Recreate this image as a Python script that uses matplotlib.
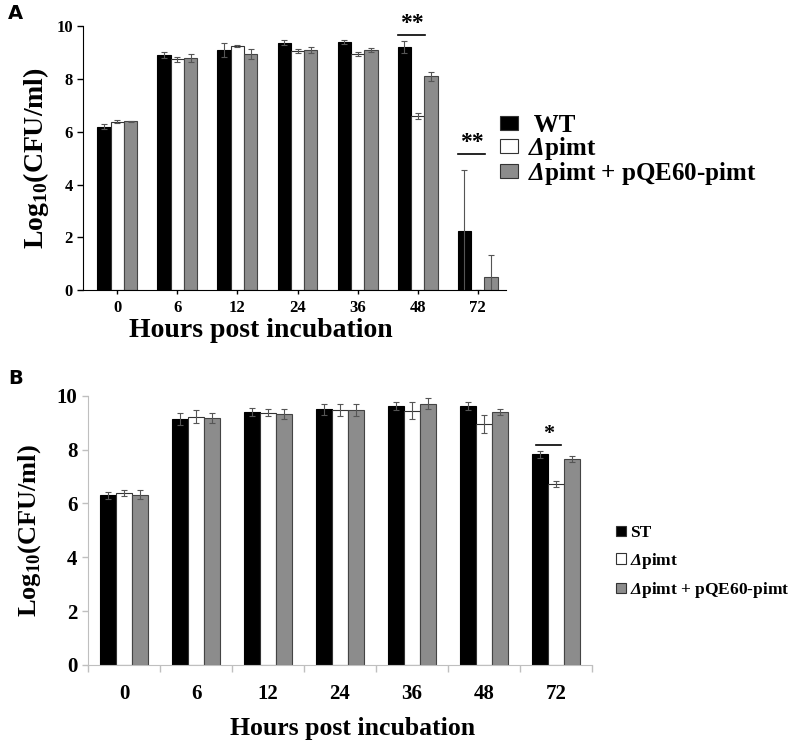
import numpy as np
import matplotlib
matplotlib.use("Agg")
import matplotlib.pyplot as plt

plt.rcParams['font.family'] = ['Liberation Serif', 'DejaVu Serif']
plt.rcParams['font.weight'] = 'bold'
plt.rcParams['axes.labelweight'] = 'bold'
plt.rcParams['mathtext.fontset'] = 'custom'
plt.rcParams['mathtext.rm'] = 'Liberation Serif:bold'
plt.rcParams['mathtext.bf'] = 'Liberation Serif:bold'
plt.rcParams['mathtext.sf'] = 'Liberation Serif:italic:bold'

hours = ["0", "6", "12", "24", "36", "48", "72"]

# panel A
a_wt = [6.2, 8.9, 9.1, 9.38, 9.4, 9.2, 2.25]
a_wt_err = [0.08, 0.12, 0.25, 0.1, 0.07, 0.22, 2.3]
a_del = [6.38, 8.75, 9.25, 9.05, 8.95, 6.6, 0.0]
a_del_err = [0.05, 0.1, 0.03, 0.08, 0.08, 0.12, 0.0]
a_comp = [6.4, 8.8, 8.95, 9.1, 9.1, 8.1, 0.5]
a_comp_err = [0.02, 0.15, 0.2, 0.12, 0.06, 0.18, 0.85]

# panel B
b_st = [6.3, 9.15, 9.4, 9.5, 9.62, 9.62, 7.82]
b_st_err = [0.12, 0.22, 0.15, 0.2, 0.15, 0.15, 0.12]
b_del = [6.38, 9.22, 9.37, 9.48, 9.45, 8.95, 6.72]
b_del_err = [0.1, 0.25, 0.12, 0.22, 0.32, 0.35, 0.12]
b_comp = [6.33, 9.17, 9.33, 9.48, 9.7, 9.4, 7.65]
b_comp_err = [0.18, 0.2, 0.18, 0.22, 0.2, 0.12, 0.1]

labels_a = [" WT", r"$\mathsf{Δ}$pimt", r"$\mathsf{Δ}$pimt + pQE60-pimt"]
labels_b = ["ST", r"$\mathsf{Δ}$pimt", r"$\mathsf{Δ}$pimt + pQE60-pimt"]
colors = ["#000000", "#ffffff", "#8c8c8c"]
edges = ["#000000", "#333333", "#444444"]

fig = plt.figure(figsize=(8, 7.48), dpi=100)

x = np.arange(len(hours))
w = 0.222
ekw = dict(ecolor="#555555", elinewidth=0.8, capsize=2, capthick=0.8)

# ---------------- A
ax1 = fig.add_axes([0.104, 0.612, 0.529, 0.353])
for i, (vals, err) in enumerate([(a_wt, a_wt_err), (a_del, a_del_err), (a_comp, a_comp_err)]):
    ax1.bar(x + (i - 1) * w, vals, w, color=colors[i], edgecolor=edges[i], linewidth=0.8,
            yerr=err, error_kw=ekw, label=labels_a[i])
ax1.set_ylim(0, 10)
ax1.set_xlim(-0.57, 6.48)
ax1.set_yticks([0, 2, 4, 6, 8, 10])
ax1.set_xticks(x)
ax1.set_xticklabels(hours)
ax1.tick_params(axis='y', labelsize=12, length=4, width=1)
ax1.tick_params(axis='x', labelsize=12, length=3, width=1, pad=4)
ax1.spines['top'].set_visible(False)
ax1.spines['right'].set_visible(False)
ax1.set_ylabel(r"Log$_{10}$(CFU/ml)", fontsize=20, labelpad=4)
ax1.set_xlabel("Hours post incubation", fontsize=20, labelpad=0)
ax1.xaxis.set_label_coords(0.42, -0.105)

for xc, yl in [(5, 9.66), (6, 5.15)]:
    ax1.plot([xc - 0.32, xc + 0.13], [yl, yl], color="black", lw=1.2)
    ax1.text(xc - 0.095, yl + 0.05, "**", ha="center", va="bottom", fontsize=17)

leg1 = ax1.legend(loc="upper left", bbox_to_anchor=(0.625, 0.848), bbox_transform=fig.transFigure,
                  frameon=False, fontsize=18, handlelength=0.72, handleheight=0.52,
                  handletextpad=0.4, labelspacing=-0.08, borderaxespad=0, borderpad=0)
for h in leg1.legend_handles:
    h.set_edgecolor("#333333")

fig.text(0.01, 0.995, "A", fontsize=14, fontweight="bold", family="DejaVu Sans", va="top")

# ---------------- B
ax2 = fig.add_axes([0.11, 0.111, 0.63, 0.36])
for i, (vals, err) in enumerate([(b_st, b_st_err), (b_del, b_del_err), (b_comp, b_comp_err)]):
    ax2.bar(x + (i - 1) * w, vals, w, color=colors[i], edgecolor=edges[i], linewidth=0.8,
            yerr=err, error_kw=ekw, label=labels_b[i])
ax2.set_ylim(0, 10)
ax2.set_xlim(-0.5, 6.5)
ax2.set_yticks([0, 2, 4, 6, 8, 10])
ax2.set_xticks(x)
ax2.set_xticklabels(hours)
ax2.set_xticks(np.arange(-0.5, 7, 1), minor=True)
ax2.tick_params(axis='x', which='major', length=0, labelsize=15, pad=14)
ax2.tick_params(axis='x', which='minor', length=5, color="#bfbfbf", width=1)
ax2.tick_params(axis='y', labelsize=15, length=4, color="#bfbfbf", width=1)
ax2.spines['top'].set_visible(False)
ax2.spines['right'].set_visible(False)
ax2.spines['left'].set_color("#bfbfbf")
ax2.spines['bottom'].set_color("#bfbfbf")
ax2.set_ylabel(r"Log$_{10}$(CFU/ml)", fontsize=19, labelpad=10)
ax2.set_xlabel("Hours post incubation", fontsize=18.5, labelpad=10)
ax2.xaxis.set_label_coords(0.524, -0.195)

ax2.plot([6 - 0.28, 6 + 0.07], [8.18, 8.18], color="black", lw=1.2)
ax2.text(6 - 0.105, 8.22, "*", ha="center", va="bottom", fontsize=16)

leg2 = ax2.legend(loc="upper left", bbox_to_anchor=(0.77, 0.298), bbox_transform=fig.transFigure,
                  frameon=False, fontsize=12.5, handlelength=0.55, handleheight=0.55,
                  handletextpad=0.25, labelspacing=0.55, borderaxespad=0, borderpad=0)
for h in leg2.legend_handles:
    h.set_edgecolor("#333333")

fig.text(0.01, 0.507, "B", fontsize=14, fontweight="bold", family="DejaVu Sans", va="top")

fig.savefig("out.png", dpi=100)
